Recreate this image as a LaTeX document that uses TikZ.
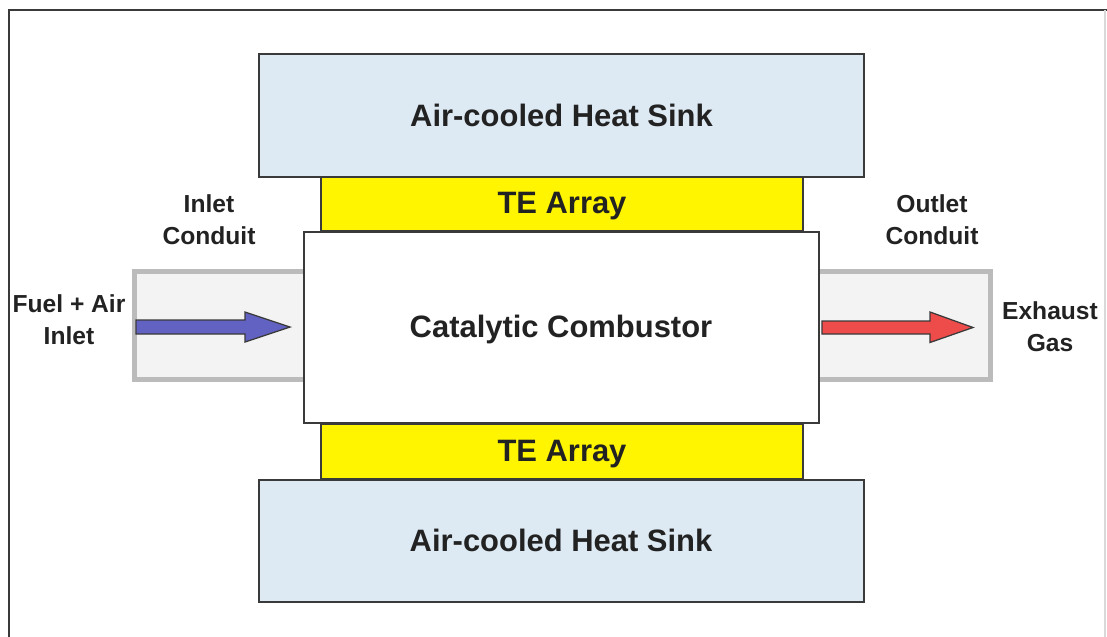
\documentclass[tikz,border=0pt]{standalone}
\usepackage{fontspec}
\setmainfont{Liberation Sans}
\definecolor{sinkblue}{HTML}{DEEAF3}
\definecolor{teyellow}{HTML}{FFF500}
\definecolor{ductgray}{HTML}{BBBBBB}
\definecolor{ductfill}{HTML}{F3F3F3}
\definecolor{fuelblue}{HTML}{6262C2}
\definecolor{gasred}{HTML}{EE4B4B}
\definecolor{edge}{HTML}{3A3A3A}
\definecolor{ink}{HTML}{222222}

\begin{document}
\begin{tikzpicture}[x=0.025cm,y=-0.025cm,
  box/.style={draw=edge,line width=1.1pt},
  duct/.style={draw=ductgray,fill=ductfill,line width=3.5pt},
  flow/.style={draw=edge,line width=0.9pt},
  lbl/.style={text=ink,font=\bfseries\fontsize{22}{26}\selectfont},
  side/.style={text=ink,align=center,font=\bfseries\fontsize{17.5}{22.8}\selectfont}]
\useasboundingbox (0,0) rectangle (1107,637);
\coordinate (fuelTail) at (136,327);
\coordinate (fuelTip) at (290,327);
\coordinate (gasTail) at (822,327.5);
\coordinate (gasTip) at (973,327.5);

\draw[edge,line width=2pt] (9,637) -- (9,10) -- (1107,10);
\draw[black!15,line width=1pt] (1105,10) -- (1105,637);

\draw[duct] (134.5,271.5) rectangle (308,379.5);
\draw[duct] (816,271.5) rectangle (990.5,379.5);

\draw[box,fill=sinkblue] (259,54) rectangle (864,177);
\draw[box,fill=teyellow] (321,177) rectangle (803,231);
\draw[box,fill=white] (304,232) rectangle (819,423);
\draw[box,fill=teyellow] (321,424) rectangle (803,479);
\draw[box,fill=sinkblue] (259,480) rectangle (864,602);

\draw[flow,fill=fuelblue] (fuelTail) ++(0,-7) -- ++(109,0) -- ++(0,-8) -- (fuelTip) -- ++(-45,15) -- ++(0,-8) -- ++(-109,0) -- cycle;
\draw[flow,fill=gasred] (gasTail) ++(0,-6.5) -- ++(108,0) -- ++(0,-9) -- (gasTip) -- ++(-43,15) -- ++(0,-8.5) -- ++(-108,0) -- cycle;

\node[lbl] (topsink) at (561.5,115) {Air-cooled Heat Sink};
\node[lbl] (toparray) at (562,206) {TE Array};
\node[lbl] (combustor) at (561,330) {Catalytic Combustor};
\node[lbl] (botarray) at (562,454) {TE Array};
\node[lbl] (botsink) at (561,540) {Air-cooled Heat Sink};
\node[side] (inletduct) at (209,220) {Inlet\\Conduit};
\node[side] (outletduct) at (932,220) {Outlet\\Conduit};
\node[side] (fuelair) at (69,320) {Fuel + Air\\Inlet};
\node[side] (exhaust) at (1050,327) {Exhaust\\Gas};
\end{tikzpicture}
\end{document}
